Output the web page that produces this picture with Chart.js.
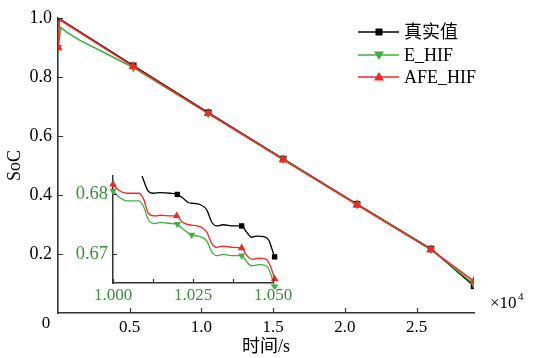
<!DOCTYPE html>
<html>
<head>
<meta charset="utf-8">
<script src="https://cdn.jsdelivr.net/npm/chart.js@4/dist/chart.umd.min.js"></script>
<style>
  html, body { margin: 0; padding: 0; background: #fff; }
  #wrap { position: relative; width: 542px; height: 358px; }
  #wrap canvas { position: absolute; left: 0; top: 0; }
</style>
</head>
<body>
<div id="wrap">
  <canvas id="mainChart" width="542" height="358"></canvas>
  <canvas id="insetChart" width="542" height="358"></canvas>
</div>
<script>
// main plot data (time in 1e4 s)
const trueTime = [0, 0.525, 1.048, 1.57, 2.085, 2.60, 2.9];
const trueSoC  = [1.0, 0.838, 0.679, 0.522, 0.369, 0.217, 0.092];

const ehifTime = [0, 0.02, 0.06, 0.15, 0.30, 0.525, 1.048, 1.57, 2.085, 2.60, 2.9];
const ehifSoC  = [0.9, 0.968, 0.952, 0.925, 0.888, 0.832, 0.676, 0.521, 0.368, 0.216, 0.098];
const ehifMarks = [0, 5, 6, 7, 8, 9, 10];

const afeTime = [0, 0.01, 0.525, 1.048, 1.57, 2.085, 2.60, 2.9];
const afeSoC  = [0.9, 0.995, 0.836, 0.677, 0.520, 0.367, 0.215, 0.108];
const afeMarks = [0, 2, 3, 4, 5, 6, 7];

// inset zoom data
const insetTrueTime = [1.0090, 1.0111, 1.0127, 1.0147, 1.0178, 1.0201, 1.0220, 1.0236, 1.0251, 1.0272,
                       1.0293, 1.0308, 1.0324, 1.0344, 1.0376, 1.0402, 1.0417, 1.0433, 1.0448, 1.0471,
                       1.0488, 1.0495, 1.0505];
const insetTrueSoC  = [0.6832, 0.6805, 0.6802, 0.6803, 0.6802, 0.6800, 0.6793, 0.6786, 0.6785, 0.6783,
                       0.6774, 0.6754, 0.6747, 0.6749, 0.6747, 0.6747, 0.6737, 0.6728, 0.6730, 0.6729,
                       0.6722, 0.6711, 0.6695];
const insetTrueMarks = [5, 15, 22];

const insetAfeTime = [1.0000, 1.0018, 1.0044, 1.0080, 1.0095, 1.0111, 1.0132, 1.0147, 1.0184, 1.0199,
                      1.0215, 1.0236, 1.0272, 1.0293, 1.0308, 1.0324, 1.0344, 1.0376, 1.0402, 1.0417,
                      1.0433, 1.0459, 1.0479, 1.0492, 1.0505];
const insetAfeSoC  = [0.6817, 0.6807, 0.6802, 0.6802, 0.6793, 0.6768, 0.6764, 0.6765, 0.6764, 0.6764,
                      0.6754, 0.6749, 0.6746, 0.6737, 0.6718, 0.6711, 0.6713, 0.6711, 0.6710, 0.6698,
                      0.6691, 0.6693, 0.6691, 0.6679, 0.6658];
const insetAfeMarks = [0, 9, 18, 24];

const insetEhifTime = [1.0000, 1.0018, 1.0044, 1.0080, 1.0095, 1.0111, 1.0132, 1.0147, 1.0184, 1.0201,
                       1.0215, 1.0246, 1.0272, 1.0293, 1.0308, 1.0324, 1.0344, 1.0376, 1.0402, 1.0417,
                       1.0433, 1.0459, 1.0479, 1.0492, 1.0505];
const insetEhifSoC  = [0.6806, 0.6796, 0.6789, 0.6789, 0.6780, 0.6757, 0.6751, 0.6753, 0.6751, 0.6750,
                       0.6743, 0.6732, 0.6729, 0.6722, 0.6704, 0.6697, 0.6699, 0.6697, 0.6697, 0.6687,
                       0.6680, 0.6682, 0.6680, 0.6668, 0.6645];
const insetEhifMarks = [0, 9, 11, 18, 24];

// ticks
const mainXTicks = [0.5, 1.0, 1.5, 2.0, 2.5];
const mainYTicks = [0.2, 0.4, 0.6, 0.8, 1.0];
const insetXTicks = [1.000, 1.0125, 1.025, 1.0375, 1.050];
const insetYTicks = [0.67, 0.68];

const legendNames = ['真实值', 'E_HIF', 'AFE_HIF'];

const BLACK = '#000000';
const GREEN = '#3cb043';
const RED = '#f02828';
const AXIS = '#333333';
const TICK_GREEN = '#3d8f3d';
const FONT = "'Liberation Serif', 'Times New Roman', 'Noto Sans CJK SC', serif";

function pts(xs, ys) {
  return xs.map((x, i) => ({ x: x, y: ys[i] }));
}

function markRadius(marks, r) {
  return ctx => marks.includes(ctx.dataIndex) ? r : 0;
}

// inward tick marks, drawn from the scales
function inwardTicks(len, xVals, yVals) {
  return {
    id: 'inwardTicks',
    afterDraw(chart) {
      const { ctx, scales: { x, y }, chartArea } = chart;
      ctx.save();
      ctx.strokeStyle = AXIS;
      ctx.lineWidth = 1.2;
      ctx.beginPath();
      xVals.forEach(v => {
        const px = Math.round(x.getPixelForValue(v)) + 0.5;
        ctx.moveTo(px, chartArea.bottom);
        ctx.lineTo(px, chartArea.bottom - len);
      });
      yVals.forEach(v => {
        const py = Math.round(y.getPixelForValue(v)) + 0.5;
        ctx.moveTo(chartArea.left, py);
        ctx.lineTo(chartArea.left + len, py);
      });
      ctx.stroke();
      ctx.restore();
    }
  };
}

function drawMarker(ctx, kind, cx, cy, color) {
  ctx.fillStyle = color;
  ctx.beginPath();
  if (kind === 'rect') {
    ctx.rect(cx - 3.5, cy - 3.5, 7, 7);
  } else if (kind === 'up') {
    ctx.moveTo(cx, cy - 5);
    ctx.lineTo(cx + 5, cy + 3.5);
    ctx.lineTo(cx - 5, cy + 3.5);
  } else {
    ctx.moveTo(cx, cy + 5);
    ctx.lineTo(cx + 5, cy - 3.5);
    ctx.lineTo(cx - 5, cy - 3.5);
  }
  ctx.closePath();
  ctx.fill();
}

const extras = {
  id: 'extras',
  afterDraw(chart) {
    const { ctx, scales: { x, y } } = chart;
    ctx.save();
    // shared origin label
    ctx.fillStyle = '#000';
    ctx.font = '17px ' + FONT;
    ctx.textAlign = 'center';
    ctx.textBaseline = 'middle';
    ctx.fillText('0', x.getPixelForValue(0) - 12, y.getPixelForValue(0) + 11);
    // x10^4
    ctx.textAlign = 'left';
    ctx.textBaseline = 'alphabetic';
    ctx.fillText('×10', 490, 308);
    ctx.font = '11px ' + FONT;
    ctx.fillText('4', 518, 300);

    // legend
    const rows = [
      { color: BLACK, kind: 'rect', y: 32 },
      { color: GREEN, kind: 'down', y: 55 },
      { color: RED, kind: 'up', y: 77 }
    ];
    ctx.font = '18px ' + FONT;
    ctx.textBaseline = 'middle';
    rows.forEach((r, i) => {
      ctx.strokeStyle = r.color;
      ctx.lineWidth = 1.5;
      ctx.beginPath();
      ctx.moveTo(358, r.y);
      ctx.lineTo(399, r.y);
      ctx.stroke();
      drawMarker(ctx, r.kind, 379, r.y, r.color);
      ctx.fillStyle = '#000';
      ctx.fillText(legendNames[i], 404, r.y + 1);
    });
    ctx.restore();
  }
};

new Chart(document.getElementById('mainChart'), {
  type: 'line',
  data: {
    datasets: [
      {
        label: legendNames[0], data: pts(trueTime, trueSoC), order: 3,
        borderColor: BLACK, backgroundColor: BLACK, borderWidth: 1.6,
        pointStyle: 'rect', pointRadius: 4.6, pointBorderWidth: 0
      },
      {
        label: legendNames[1], data: pts(ehifTime, ehifSoC), order: 2,
        borderColor: GREEN, backgroundColor: GREEN, borderWidth: 1.6,
        pointStyle: 'triangle', rotation: 180, pointRadius: markRadius(ehifMarks, 5), pointBorderWidth: 0
      },
      {
        label: legendNames[2], data: pts(afeTime, afeSoC), order: 1,
        borderColor: RED, backgroundColor: RED, borderWidth: 1.6,
        pointStyle: 'triangle', pointRadius: markRadius(afeMarks, 5.4), pointBorderWidth: 0
      }
    ]
  },
  options: {
    responsive: false,
    animation: false,
    layout: { padding: { left: 0, right: 68, top: 18, bottom: 0 } },
    plugins: { legend: { display: false }, tooltip: { enabled: false } },
    scales: {
      x: {
        type: 'linear', min: 0, max: 2.9,
        grid: { display: false, drawTicks: false },
        border: { display: true, color: AXIS, width: 1.6 },
        ticks: {
          stepSize: 0.5, includeBounds: false, padding: 4, maxRotation: 0,
          color: '#000', font: { family: FONT, size: 17 },
          callback: v => v === 0 ? '' : v.toFixed(1)
        },
        title: { display: true, text: '时间/s', color: '#000', font: { family: FONT, size: 18 }, padding: { top: 2, bottom: 0 } },
        afterFit: s => { s.height = 45; }
      },
      y: {
        min: 0, max: 1.0,
        grid: { display: false, drawTicks: false },
        border: { display: true, color: AXIS, width: 1.6 },
        ticks: {
          stepSize: 0.2, padding: 6,
          color: '#000', font: { family: FONT, size: 18 },
          callback: v => v === 0 ? '' : v.toFixed(1)
        },
        title: { display: true, text: 'SoC', color: '#000', font: { family: FONT, size: 18 }, padding: { top: 4, bottom: 0 } },
        afterFit: s => { s.width = 58; }
      }
    }
  },
  plugins: [inwardTicks(5, mainXTicks, mainYTicks), extras]
});

const insetClip = { left: 6, top: 0, right: 6, bottom: 6 };

new Chart(document.getElementById('insetChart'), {
  type: 'line',
  data: {
    datasets: [
      {
        data: pts(insetTrueTime, insetTrueSoC), order: 3, clip: insetClip,
        borderColor: BLACK, backgroundColor: BLACK, borderWidth: 1.3, cubicInterpolationMode: 'monotone',
        pointStyle: 'rect', pointRadius: markRadius(insetTrueMarks, 3.8), pointBorderWidth: 0
      },
      {
        data: pts(insetEhifTime, insetEhifSoC), order: 2, clip: insetClip,
        borderColor: GREEN, backgroundColor: GREEN, borderWidth: 1.3, cubicInterpolationMode: 'monotone',
        pointStyle: 'triangle', rotation: 180, pointRadius: markRadius(insetEhifMarks, 4.2), pointBorderWidth: 0
      },
      {
        data: pts(insetAfeTime, insetAfeSoC), order: 1, clip: insetClip,
        borderColor: RED, backgroundColor: RED, borderWidth: 1.3, cubicInterpolationMode: 'monotone',
        pointStyle: 'triangle', pointRadius: markRadius(insetAfeMarks, 4.4), pointBorderWidth: 0
      }
    ]
  },
  options: {
    responsive: false,
    animation: false,
    layout: { padding: { left: 0, right: 269, top: 176, bottom: 0 } },
    plugins: { legend: { display: false }, tooltip: { enabled: false } },
    scales: {
      x: {
        type: 'linear', min: 1.0, max: 1.05,
        grid: { display: false, drawTicks: false },
        border: { display: true, color: AXIS, width: 1.5 },
        ticks: {
          stepSize: 0.025, padding: 2, maxRotation: 0, autoSkip: false,
          color: TICK_GREEN, font: { family: FONT, size: 17 },
          callback: v => v.toFixed(3)
        },
        afterFit: s => { s.height = 75; }
      },
      y: {
        min: 0.6651, max: 0.6831,
        grid: { display: false, drawTicks: false },
        border: { display: true, color: AXIS, width: 1.5 },
        afterBuildTicks: s => { s.ticks = insetYTicks.map(v => ({ value: v })); },
        ticks: {
          padding: 5,
          color: TICK_GREEN, font: { family: FONT, size: 18.5 },
          callback: v => v.toFixed(2)
        },
        afterFit: s => { s.width = 113; }
      }
    }
  },
  plugins: [inwardTicks(4, insetXTicks, insetYTicks)]
});
</script>
</body>
</html>
